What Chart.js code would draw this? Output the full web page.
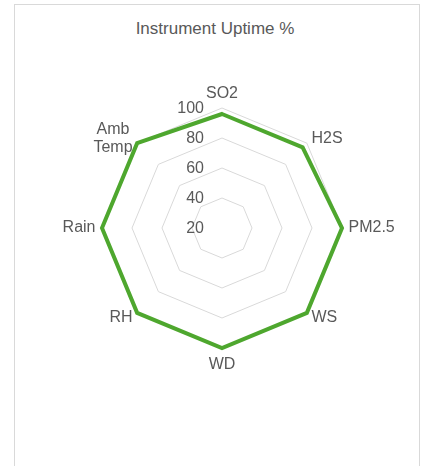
<!DOCTYPE html>
<html>
<head>
<meta charset="utf-8">
<script src="https://cdn.jsdelivr.net/npm/chart.js@4"></script>
<style>
  body { margin: 0; background: #fff; font-family: 'Liberation Sans', Arial, sans-serif; }
  .frame {
    position: absolute; left: 14px; top: 4px; width: 406px; height: 500px;
    box-sizing: border-box; border: 1px solid #d9d9d9; background: #fff;
  }
  .title {
    position: absolute; left: 15px; top: 19px; width: 400px; line-height: 20px;
    text-align: center; font-size: 17px; color: #595959;
  }
  #chart { position: absolute; left: 16px; top: 5px; }
</style>
</head>
<body>
<div class="frame"></div>
<div class="title">Instrument Uptime %</div>
<canvas id="chart" width="403" height="461"></canvas>
<script>
// Data
const categories = ['SO2', 'H2S', 'PM2.5', 'WS', 'WD', 'RH', 'Rain', ['Amb', 'Temp']];
const uptime = [96, 96, 100, 100, 100, 100, 100, 100];
const tickValues = [20, 40, 60, 80, 100];

const textColor = '#595959';
const fontFamily = "'Liberation Sans', Arial, sans-serif";

// Excel-style labels: numbers left of the vertical spoke, category names
// hugging the outer ring
const excelLabels = {
    id: 'excelLabels',
    afterDatasetsDraw(chart) {
        const scale = chart.scales.r;
        const ctx = chart.ctx;
        ctx.save();
        ctx.fillStyle = textColor;
        ctx.textBaseline = 'middle';

        // axis numbers
        ctx.font = '16px ' + fontFamily;
        ctx.textAlign = 'right';
        tickValues.forEach(v => {
            const d = scale.getDistanceFromCenterForValue(v);
            ctx.fillText(String(v), scale.xCenter - 18, scale.yCenter - d + 1);
        });

        // category names
        ctx.font = '16px ' + fontFamily;
        const lineH = 18;
        categories.forEach((label, i) => {
            const lines = Array.isArray(label) ? label : [label];
            const p = scale.getPointPosition(i, scale.drawingArea + 6.5);
            const dx = p.x - scale.xCenter;
            const dy = p.y - scale.yCenter;
            let x = p.x;
            let y = p.y;
            const blockW = Math.max(...lines.map(l => ctx.measureText(l).width));
            let cx;
            if (Math.abs(dx) < 1) {
                cx = x;
                y += dy < 0 ? -8 : 10;
            } else if (dx > 0) {
                cx = x + blockW / 2;
            } else {
                cx = x - blockW / 2;
            }
            ctx.textAlign = 'center';
            const top = y - (lines.length - 1) * lineH / 2;
            lines.forEach((l, k) => ctx.fillText(l, cx, top + k * lineH));
        });
        ctx.restore();
    }
};

new Chart(document.getElementById('chart'), {
    type: 'radar',
    data: {
        labels: categories,
        datasets: [{
            label: 'Uptime',
            data: uptime,
            borderColor: '#4EA72E',
            borderWidth: 4,
            pointRadius: 0,
            fill: false,
            tension: 0
        }]
    },
    options: {
        responsive: false,
        animation: false,
        layout: { padding: { left: 86, right: 77, top: 103, bottom: 118 } },
        plugins: {
            legend: { display: false },
            tooltip: { enabled: false }
        },
        scales: {
            r: {
                min: 20,
                max: 100,
                ticks: { stepSize: 20, display: false },
                grid: { color: '#d9d9d9', lineWidth: 1 },
                angleLines: { display: false },
                pointLabels: { display: false }
            }
        }
    },
    plugins: [excelLabels]
});
</script>
</body>
</html>
